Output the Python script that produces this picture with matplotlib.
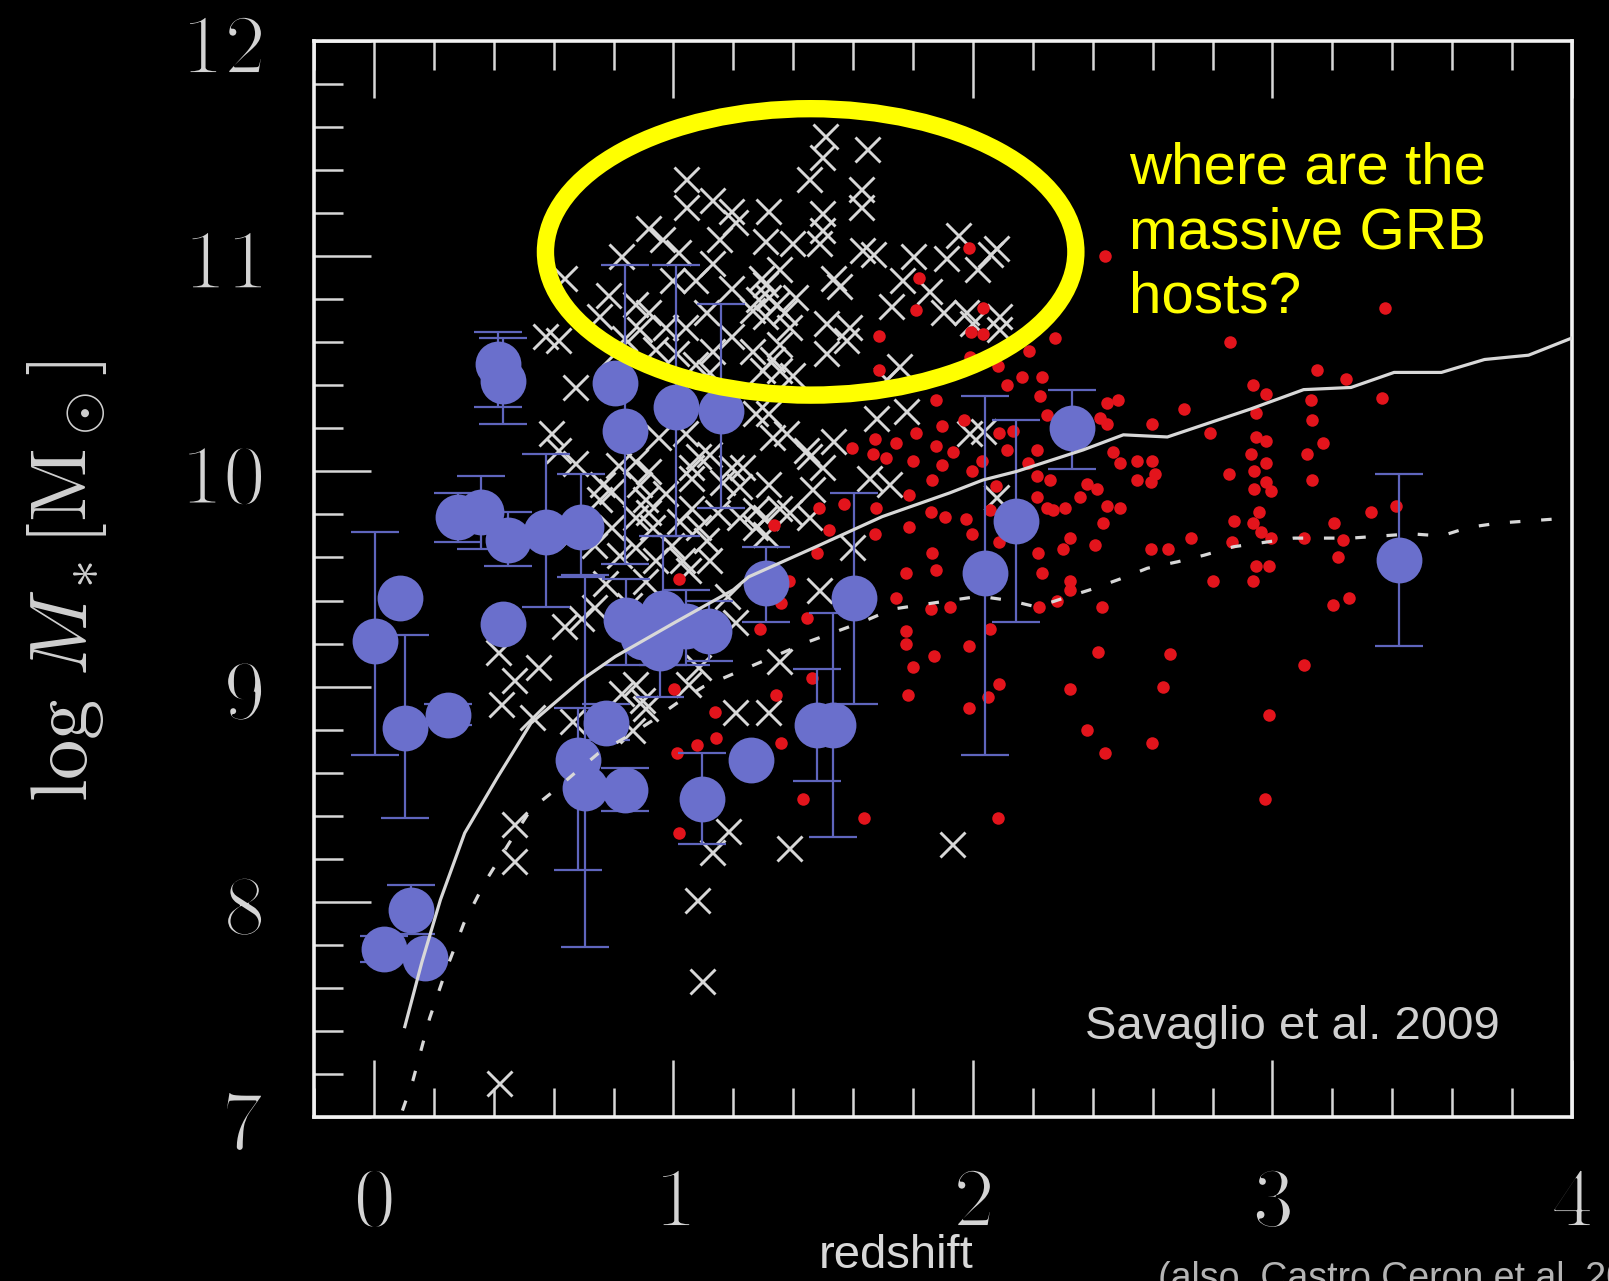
import numpy as np
import matplotlib
matplotlib.use('Agg')
import matplotlib.pyplot as plt
import matplotlib.patheffects as pe
from matplotlib.patches import Ellipse
from matplotlib.ticker import MultipleLocator, FuncFormatter

plt.rcParams['mathtext.fontset'] = 'cm'

# =========================
# data
# =========================

# field galaxies (grey crosses): redshift, log M*
cross_z = [1.042, 1.042, 1.128, 1.193, 1.207, 1.152, 0.915, 0.960, 1.015, 0.825,
           1.317, 1.307, 1.128, 1.073, 0.994, 0.781, 0.870, 0.915, 0.750, 0.973,
           1.039, 0.884, 1.107, 1.193, 1.293, 1.317, 1.262, 1.307, 1.193, 1.128,
           1.073, 1.262, 1.297, 0.571, 0.616, 0.636, 0.671, 1.118, 1.506, 1.496,
           1.647, 1.451, 1.627, 1.627, 1.496, 1.496, 1.396, 1.486, 1.630, 1.665,
           1.799, 1.909, 1.950, 2.077, 2.057, 2.012, 1.764, 1.854, 1.727, 1.899,
           1.978, 2.088, 1.998, 2.088, 1.352, 1.531, 1.551, 1.307, 1.510, 1.586,
           1.575, 1.510, 1.352, 1.407, 1.328, 1.396, 1.754, 1.709, 1.352, 1.675,
           1.778, 1.317, 1.376, 1.531, 1.451, 1.654, 1.720, 1.317, 1.352, 1.273,
           1.451, 1.596, 1.988, 2.033, 1.486, 1.352, 1.317, 1.328, 1.441, 1.496,
           1.462, 1.386, 1.307, 2.077, 0.592, 0.616, 0.671, 0.760, 0.750, 0.791,
           0.870, 0.884, 0.905, 0.870, 0.929, 0.870, 0.949, 1.039, 1.083, 1.118,
           1.059, 0.973, 1.059, 1.018, 1.107, 1.118, 0.905, 0.770, 1.049, 1.228,
           1.218, 1.273, 1.218, 1.273, 1.207, 0.636, 0.736, 0.413, 0.468, 0.547,
           1.083, 0.825, 0.791, 0.815, 0.915, 1.059, 1.193, 1.307, 1.083, 1.028,
           0.915, 0.691, 0.423, 0.526, 0.660, 0.870, 0.905, 1.049, 0.894, 0.860,
           1.207, 0.468, 0.468, 1.183, 1.128, 1.386, 1.077, 1.094, 1.930, 0.416,
           1.341, 1.369, 1.283, 1.386, 0.836, 0.939, 1.008, 0.801, 1.163, 1.145,
           0.991, 0.939, 0.819, 0.853, 1.180, 0.733, 0.664]
cross_m = [11.36, 11.23, 11.26, 11.21, 11.16, 11.08, 11.13, 11.08, 11.02, 11.00,
           11.21, 11.07, 10.97, 10.89, 10.89, 10.82, 10.78, 10.74, 10.72, 10.67,
           10.67, 10.66, 10.74, 10.85, 10.90, 10.81, 10.75, 10.72, 10.63, 10.56,
           10.50, 10.56, 10.47, 10.63, 10.61, 10.90, 10.39, 10.46, 11.56, 11.46,
           11.50, 11.36, 11.31, 11.23, 11.20, 11.12, 11.06, 11.06, 11.03, 11.01,
           11.00, 10.99, 11.10, 11.04, 11.01, 10.94, 10.89, 10.84, 10.77, 10.74,
           10.74, 10.72, 10.69, 10.66, 10.94, 10.90, 10.86, 10.87, 10.69, 10.67,
           10.61, 10.55, 10.59, 10.81, 10.52, 10.45, 10.49, 10.43, 10.47, 10.25,
           10.28, 10.27, 10.18, 10.14, 10.07, 9.97, 9.94, 9.94, 9.83, 9.82,
           9.79, 9.65, 10.18, 10.19, 9.45, 9.12, 8.88, 10.16, 10.10, 10.02,
           9.92, 9.81, 9.71, 9.88, 10.18, 10.10, 10.04, 9.94, 9.87, 9.74,
           10.05, 9.94, 9.87, 9.79, 9.74, 9.65, 10.16, 10.18, 10.07, 10.08,
           9.97, 9.90, 9.83, 9.77, 9.68, 9.59, 9.49, 9.48, 9.54, 10.02,
           9.93, 10.27, 9.79, 9.74, 9.30, 9.28, 9.37, 9.16, 9.03, 9.09,
           9.09, 8.97, 9.91, 10.03, 10.00, 10.02, 10.02, 9.79, 9.74, 9.59,
           9.81, 9.32, 8.92, 8.86, 8.84, 9.01, 8.90, 9.01, 8.94, 8.80,
           8.88, 8.36, 8.19, 8.33, 8.23, 8.25, 8.01, 7.63, 8.27, 7.16,
           10.78, 10.74, 10.80, 10.67, 10.62, 10.57, 10.55, 10.55, 9.95, 9.81,
           9.66, 9.59, 9.61, 9.38, 9.42, 9.66, 9.71]

# high-z sample (red dots)
red_z = [1.988, 1.819, 1.809, 2.033, 1.995, 2.033, 1.685, 1.685, 2.273, 2.187,
         2.084, 1.991, 2.163, 2.112, 2.232, 2.225, 1.878, 1.596, 1.672, 1.665,
         1.709, 1.744, 1.809, 1.895, 1.971, 1.878, 1.933, 1.799, 1.895, 1.998,
         1.864, 2.029, 2.088, 2.112, 2.132, 2.215, 2.246, 2.184, 2.215, 2.256,
         1.486, 1.568, 1.675, 1.788, 1.861, 1.905, 1.978, 1.998, 2.077, 2.057,
         2.088, 2.215, 2.267, 2.218, 2.232, 2.280, 2.222, 1.334, 1.520, 1.672,
         1.788, 1.479, 1.864, 1.778, 1.878, 1.358, 1.744, 1.861, 1.923, 1.445,
         1.778, 1.778, 1.988, 1.871, 1.799, 2.057, 2.088, 1.462, 1.341, 1.782,
         2.449, 2.483, 2.425, 2.449, 2.703, 2.597, 2.934, 2.978, 3.130, 3.364,
         3.133, 2.944, 2.793, 2.944, 2.978, 3.168, 2.469, 2.549, 2.597, 2.490,
         2.607, 2.549, 2.593, 2.927, 2.978, 2.937, 2.855, 3.116, 3.133, 2.978,
         2.937, 2.996, 2.380, 2.414, 2.356, 2.308, 2.246, 2.449, 2.490, 2.435,
         2.325, 2.408, 2.301, 2.593, 2.652, 2.727, 2.872, 2.934, 2.954, 2.961,
         2.996, 2.865, 3.106, 3.206, 3.236, 3.219, 3.329, 3.412, 2.944, 2.989,
         2.803, 2.934, 3.254, 3.202, 2.325, 2.325, 2.432, 2.418, 2.659, 2.325,
         2.635, 3.106, 3.374, 2.858, 3.150, 3.247, 2.989, 2.597, 1.988, 2.050,
         2.380, 2.442, 1.431, 1.358, 1.001, 1.138, 1.142, 1.077, 1.011, 1.018,
         1.018, 1.290, 1.386, 1.637, 2.084, 2.975, 2.442]
red_m = [11.04, 10.90, 10.75, 10.76, 10.65, 10.64, 10.63, 10.47, 10.62, 10.56,
         10.49, 10.53, 10.44, 10.40, 10.44, 10.35, 10.33, 10.11, 10.15, 10.08,
         10.06, 10.13, 10.18, 10.21, 10.24, 10.12, 10.09, 10.05, 10.03, 10.00,
         9.96, 10.05, 10.18, 10.10, 10.19, 10.10, 10.26, 10.04, 9.98, 9.96,
         9.83, 9.85, 9.83, 9.89, 9.81, 9.79, 9.78, 9.71, 9.93, 9.82,
         9.67, 9.88, 9.82, 9.62, 9.53, 9.40, 9.37, 9.75, 9.73, 9.71,
         9.74, 9.62, 9.62, 9.53, 9.54, 9.39, 9.41, 9.36, 9.37, 9.32,
         9.26, 9.20, 9.19, 9.14, 9.09, 9.27, 9.01, 9.04, 8.96, 8.96,
         10.32, 10.33, 10.25, 10.22, 10.29, 10.22, 10.40, 10.36, 10.33, 10.34,
         10.24, 10.27, 10.18, 10.16, 10.14, 10.13, 10.09, 10.05, 10.05, 10.04,
         9.99, 9.96, 9.95, 10.08, 10.04, 10.00, 9.99, 10.08, 9.96, 9.95,
         9.92, 9.91, 9.94, 9.92, 9.88, 9.83, 9.83, 9.84, 9.83, 9.76,
         9.69, 9.66, 9.64, 9.64, 9.64, 9.69, 9.77, 9.76, 9.81, 9.72,
         9.69, 9.67, 9.69, 9.76, 9.68, 9.60, 9.81, 9.84, 9.56, 9.56,
         9.49, 9.49, 9.41, 9.38, 9.49, 9.45, 9.37, 9.16, 9.15, 8.99,
         9.00, 9.10, 10.76, 10.60, 10.47, 10.43, 8.87, 8.74, 8.90, 8.95,
         8.80, 8.69, 8.48, 8.74, 8.99, 8.88, 8.76, 8.73, 8.69, 8.32,
         9.50, 9.27, 9.49, 8.39, 8.39, 8.48, 11.00]

# GRB hosts (blue circles) with error bar ends (nan = no bar)
nan = np.nan
grb_z = [0.003, 0.086, 0.103, 0.246, 0.034, 0.124, 0.169, 0.413, 0.430, 0.279,
         0.358, 0.447, 0.574, 0.691, 0.430, 0.843, 0.898, 0.956, 0.966, 1.042,
         1.118, 0.774, 0.681, 0.705, 0.839, 0.805, 0.839, 1.008, 1.159, 1.259,
         1.094, 1.310, 1.603, 1.479, 1.531, 2.040, 2.143, 2.332, 3.422]
grb_m = [9.21, 9.41, 8.81, 8.87, 7.78, 7.96, 7.74, 10.50, 10.42, 9.79,
         9.81, 9.68, 9.72, 9.74, 9.29, 9.31, 9.23, 9.18, 9.34, 9.28,
         9.26, 8.83, 8.66, 8.53, 8.52, 10.41, 10.19, 10.30, 10.28, 8.66,
         8.48, 9.48, 9.41, 8.82, 8.82, 9.53, 9.77, 10.20, 9.59]
grb_lo = [8.68, nan, 8.39, 8.82, 7.72, 7.85, nan, 10.30, 10.22, 9.67,
          9.64, 9.56, 9.37, 9.51, nan, 9.10, nan, 8.95, 9.10, 9.10,
          9.12, 8.75, 8.15, 7.79, 8.42, nan, 9.57, 9.70, 9.83, nan,
          8.27, 9.30, 8.92, 8.56, 8.30, 8.68, 9.30, 10.01, 9.19]
grb_hi = [9.72, nan, 9.24, 8.92, 7.84, 8.08, nan, 10.65, 10.62, 9.90,
          9.98, 9.81, 10.08, 9.99, nan, 9.50, nan, 9.30, 9.70, 9.45,
          9.40, 8.92, 8.90, 9.52, 8.62, nan, 10.96, 10.96, 10.78, nan,
          8.69, 9.65, 9.90, 9.08, 9.34, 10.35, 10.24, 10.38, 9.99]

# model tracks
solid_z = [0.103, 0.16, 0.222, 0.303, 0.413, 0.524, 0.692, 0.806, 1.007, 1.2,
           1.251, 1.476, 1.697, 1.922, 2.033, 2.146, 2.368, 2.502, 2.649, 2.927,
           3.104, 3.262, 3.406, 3.564, 3.708, 3.855, 4.0]
solid_m = [7.42, 7.72, 8.01, 8.32, 8.58, 8.83, 9.03, 9.14, 9.30, 9.45,
           9.51, 9.65, 9.79, 9.90, 9.96, 10.00, 10.10, 10.17, 10.16, 10.29,
           10.38, 10.39, 10.46, 10.46, 10.52, 10.54, 10.62]
dash_z = [0.095, 0.13, 0.186, 0.24, 0.30, 0.37, 0.45, 0.524, 0.605, 0.672,
          0.749, 0.860, 0.927, 1.008, 1.10, 1.251, 1.453, 1.630, 1.731, 1.922,
          2.022, 2.123, 2.213, 2.300, 2.391, 2.491, 2.582, 2.683, 2.770, 2.870,
          2.971, 3.071, 3.262, 3.463, 3.564, 3.655, 3.755, 3.956, 4.0]
dash_m = [7.03, 7.17, 7.46, 7.68, 7.90, 8.09, 8.27, 8.43, 8.52, 8.60,
          8.69, 8.78, 8.84, 8.92, 9.00, 9.09, 9.21, 9.30, 9.36, 9.40,
          9.42, 9.40, 9.37, 9.41, 9.45, 9.50, 9.55, 9.58, 9.61, 9.65,
          9.67, 9.69, 9.69, 9.71, 9.70, 9.74, 9.76, 9.78, 9.78]

note_lines = ['where are the', 'massive GRB', 'hosts?']

# =========================
# figure
# =========================
fig = plt.figure(figsize=(16.09, 12.81), dpi=100, facecolor='black')
ax = fig.add_axes([0.1952, 0.128, 0.7818, 0.840])
ax.set_facecolor('black')

grey = '#d8d8d8'
blue = '#6a6fcc'
thin = [pe.Stroke(linewidth=1.6, foreground='black')]  # thin the CM digits a bit

ax.plot(cross_z, cross_m, 'x', color=grey, ms=18, mew=2.1, zorder=2)
ax.plot(red_z, red_m, 'o', color='#e3141c', ms=9, mew=0, zorder=3)

gz = np.array(grb_z)
gm = np.array(grb_m)
lo = np.array(grb_lo)
hi = np.array(grb_hi)
ok = np.isfinite(lo)
ax.errorbar(gz[ok], gm[ok], yerr=[gm[ok] - lo[ok], hi[ok] - gm[ok]], fmt='none',
            ecolor='#5f65bd', elinewidth=1.6, capsize=17, capthick=1.6, zorder=4)
ax.plot(gz, gm, 'o', color=blue, ms=33, mew=0, zorder=5)

ax.plot(solid_z, solid_m, '-', color=grey, lw=2.3, zorder=6)
ax.plot(dash_z, dash_m, '--', color=grey, lw=2.3, dashes=(3.3, 6.5), zorder=6)

ax.add_patch(Ellipse((1.458, 11.02), 1.771, 1.331, fill=False, edgecolor='#ffff00',
                     lw=12.5, zorder=8))

ax.set_xlim(-0.2, 4.0)
ax.set_ylim(7, 12)
ax.xaxis.set_major_locator(MultipleLocator(1))
ax.xaxis.set_minor_locator(MultipleLocator(0.2))
ax.yaxis.set_major_locator(MultipleLocator(1))
ax.yaxis.set_minor_locator(MultipleLocator(0.2))
fmt = FuncFormatter(lambda v, p: r'$%d$' % round(v))
ax.xaxis.set_major_formatter(fmt)
ax.yaxis.set_major_formatter(fmt)
ax.tick_params(which='both', direction='in', colors=grey, top=True, right=False,
               width=1.8)
ax.tick_params(which='major', length=41, labelsize=61, pad=32, labelcolor='#d4d4d4')
ax.tick_params(which='minor', length=21)
ax.tick_params(axis='y', which='major', pad=36)
for lbl in ax.get_xticklabels() + ax.get_yticklabels():
    lbl.set_path_effects(thin)
for s in ax.spines.values():
    s.set_color('#f2f2f2')
    s.set_linewidth(2.6)

fig.text(0.0416, 0.5457, r'$\log\,M_*[\mathrm{M}_\odot]$', rotation=90,
         ha='center', va='center', fontsize=58, color='#d0d0d0')
fig.text(0.557, 0.002, 'redshift', ha='center', va='bottom',
         fontsize=34, color=grey, family='Liberation Sans')
ax.text(0.613, 0.0725, 'Savaglio et al. 2009', transform=ax.transAxes,
        ha='left', va='baseline', fontsize=34, color='#d0d0d0',
        family='Liberation Sans', zorder=9)
fig.text(0.7197, -0.0065, '(also, Castro Ceron et al. 2010)', ha='left',
         va='baseline', fontsize=27, color='#b4b4b4', family='Liberation Sans')

for i, line in enumerate(note_lines):
    fig.text(0.7017, 0.8571 - i * 0.0507, line, ha='left', va='baseline',
             fontsize=42, color='#ffff00', family='Liberation Sans')

fig.savefig('out.png', dpi=100, facecolor='black')
